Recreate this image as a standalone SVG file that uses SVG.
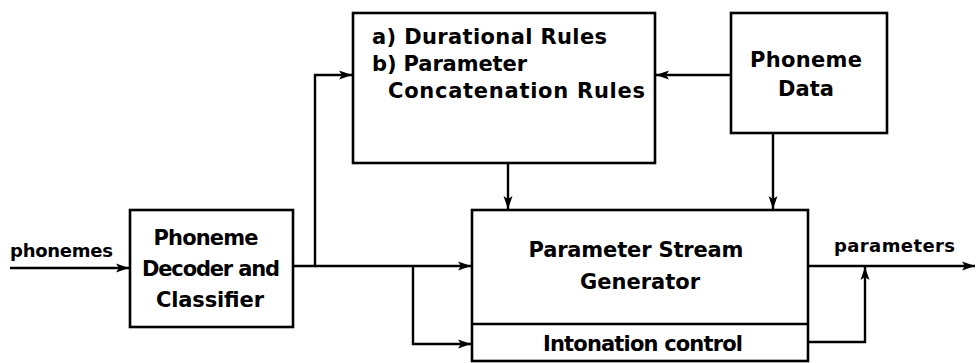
<svg xmlns="http://www.w3.org/2000/svg" width="976" height="363" viewBox="0 0 976 363">
<style>
.box{fill:#fff;stroke:#000;stroke-width:2.6}
.ln{fill:none;stroke:#000;stroke-width:2.4}
text{font-family:"DejaVu Sans","Liberation Sans",Arial,sans-serif;font-weight:bold;fill:#000}
.big{font-size:21px}
.sm{font-size:18px}
</style>
<defs>
<marker id="ah" markerWidth="14" markerHeight="10" refX="13" refY="5" orient="auto" markerUnits="userSpaceOnUse">
<path d="M0,0.5 L13,5 L0,9.5 L3,5 Z" fill="#000"/>
</marker>
</defs>
<rect width="976" height="363" fill="#fff"/>
<g id="connectors">
<path class="ln" d="M10,268 L129,268" marker-end="url(#ah)"/>
<path class="ln" d="M293,266 L315,266 L315,75 L352,75" marker-end="url(#ah)"/>
<path class="ln" d="M315,266 L471,266" marker-end="url(#ah)"/>
<path class="ln" d="M413,266 L413,344 L471,344" marker-end="url(#ah)"/>
<path class="ln" d="M731,75 L656,75" marker-end="url(#ah)"/>
<path class="ln" d="M508,163 L508,209" marker-end="url(#ah)"/>
<path class="ln" d="M773,133 L773,209" marker-end="url(#ah)"/>
<path class="ln" d="M808,266 L975,266" marker-end="url(#ah)"/>
<path class="ln" d="M808,342 L865,342 L865,267" marker-end="url(#ah)"/>
</g>
<g id="decoder">
<rect class="box" x="130" y="210" width="163" height="117"/>
<text class="big" x="206" y="245" text-anchor="middle" textLength="105">Phoneme</text>
<text class="big" x="211" y="276" text-anchor="middle" textLength="138">Decoder and</text>
<text class="big" x="210" y="307" text-anchor="middle" textLength="108">Classifier</text>
</g>
<g id="rules">
<rect class="box" x="353" y="13" width="302" height="150"/>
<text class="big" x="372" y="44" textLength="235">a) Durational Rules</text>
<text class="big" x="372" y="71" textLength="155">b) Parameter</text>
<text class="big" x="388" y="98" textLength="257">Concatenation Rules</text>
</g>
<g id="phonemedata">
<rect class="box" x="731" y="13" width="156" height="120"/>
<text class="big" x="806" y="67" text-anchor="middle" textLength="112">Phoneme</text>
<text class="big" x="806" y="96" text-anchor="middle">Data</text>
</g>
<g id="generator">
<rect class="box" x="472" y="210" width="336" height="151"/>
<line class="ln" x1="472" y1="324" x2="808" y2="324"/>
<text class="big" x="636" y="257" text-anchor="middle" textLength="215">Parameter Stream</text>
<text class="big" x="640" y="289" text-anchor="middle">Generator</text>
<text class="big" x="643" y="351" text-anchor="middle" textLength="200">Intonation control</text>
</g>
<g id="labels">
<text class="sm" x="10" y="257" textLength="103">phonemes</text>
<text class="sm" x="834" y="252" textLength="121">parameters</text>
</g>
</svg>
